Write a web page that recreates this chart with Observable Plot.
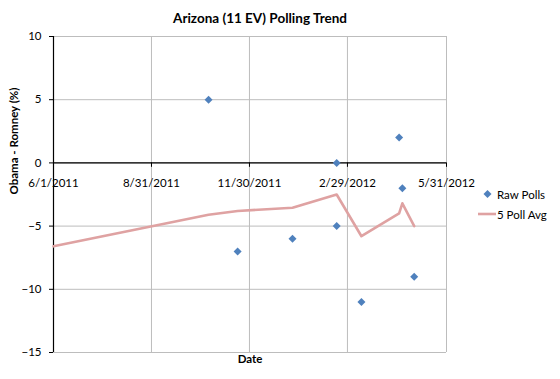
<!DOCTYPE html>
<html>
<head>
<meta charset="utf-8">
<script src="https://cdn.jsdelivr.net/npm/d3@7"></script>
<script src="https://cdn.jsdelivr.net/npm/@observablehq/plot@0.6"></script>
<style>
  html, body { margin: 0; padding: 0; background: #fff; }
  #wrap { position: relative; width: 560px; height: 379px; font-family: Lato, "Open Sans", sans-serif; }
  #legend { position: absolute; left: 476px; top: 184px; font-size: 11.5px; color: #000; }
  #legend .row { display: flex; align-items: center; height: 20px; }
  #legend svg { width: 21px; height: 18px; margin-right: 0px; }
</style>
</head>
<body>
<div id="wrap"></div>
<script>
const title = "Arizona (11 EV) Polling Trend";
const yLabel = "Obama - Romney (%)";
const xLabel = "Date";

const pollDates = ["2011-10-23","2011-11-19","2012-01-09","2012-02-19","2012-02-19","2012-03-13","2012-04-17","2012-04-20","2012-05-01"];
const pollValues = [5, -7, -6, -5, 0, -11, 2, -2, -9];

const avgDates = ["2011-06-01","2011-10-23","2011-11-19","2012-01-09","2012-02-19","2012-03-13","2012-04-17","2012-04-20","2012-05-01"];
const avgValues = [-6.6, -4.1, -3.8, -3.55, -2.5, -5.8, -4.0, -3.2, -5.0];

const xTickDates = ["2011-06-01","2011-08-31","2011-11-30","2012-02-29","2012-05-31"];
const xTickLabels = ["6/1/2011","8/31/2011","11/30/2011","2/29/2012","5/31/2012"];
const yTicks = [-15, -10, -5, 0, 5, 10];

const legendLabels = ["Raw Polls", "5 Poll Avg"];

const blue = "#4f81bd";
const pink = "#dfa2a2";

const polls = pollDates.map((d, i) => ({date: new Date(d), value: pollValues[i]}));
const avg = avgDates.map((d, i) => ({date: new Date(d), value: avgValues[i]}));
const xticks = xTickDates.map((d, i) => ({date: new Date(d), label: xTickLabels[i]}));

const chart = Plot.plot({
  width: 560,
  height: 379,
  marginLeft: 53,
  marginRight: 114,
  marginTop: 36,
  marginBottom: 27,
  style: {fontFamily: "Lato, 'Open Sans', sans-serif", fontSize: "11.5px", color: "#000", background: "#fff"},
  x: {type: "utc", domain: [new Date(xTickDates[0]), new Date(xTickDates[xTickDates.length - 1])]},
  y: {domain: [-15, 10]},
  marks: [
    Plot.gridX(xticks.map(d => d.date), {stroke: "#bdbdbd", strokeOpacity: 1, strokeWidth: 1}),
    Plot.gridY(yTicks, {stroke: "#bdbdbd", strokeOpacity: 1, strokeWidth: 1}),
    Plot.axisY({ticks: yTicks, tickSize: 4, tickPadding: 8, label: null, fontSize: 11.5, stroke: "#000"}),
    Plot.axisX({ticks: [], label: null}),
    Plot.ruleX([new Date(xTickDates[0])], {stroke: "#000", strokeWidth: 1.2}),
    Plot.ruleY([0], {stroke: "#000", strokeWidth: 1.2}),
    Plot.ruleX(xticks, {x: "date", y1: 0, y2: -0.35, stroke: "#000"}),
    Plot.text(xticks, {x: "date", y: 0, dy: 20, text: "label", fontSize: 11.5}),
    Plot.line(avg, {x: "date", y: "value", stroke: pink, strokeWidth: 2.6}),
    Plot.dot(polls, {x: "date", y: "value", symbol: "diamond2", r: 3.6, fill: blue, stroke: "none"}),
    Plot.text([title], {frameAnchor: "top", dy: -23, dx: 10, fontWeight: "bold", fontSize: 13.5}),
    Plot.text([yLabel], {frameAnchor: "left", dx: -39, rotate: -90, fontWeight: "bold", fontSize: 11.5}),
    Plot.text([xLabel], {frameAnchor: "bottom", dy: 10, fontWeight: "bold", fontSize: 11.5})
  ]
});

const wrap = document.getElementById("wrap");
wrap.appendChild(chart);

const legend = document.createElement("div");
legend.id = "legend";
legend.innerHTML = `
  <div class="row"><svg viewBox="0 0 21 18"><path d="M11.5 5 L15.5 9 L11.5 13 L7.5 9 Z" fill="${blue}"/></svg><span>${legendLabels[0]}</span></div>
  <div class="row"><svg viewBox="0 0 21 18"><line x1="2" y1="9" x2="20" y2="9" stroke="${pink}" stroke-width="2.6"/></svg><span>${legendLabels[1]}</span></div>`;
wrap.appendChild(legend);
</script>
</body>
</html>
